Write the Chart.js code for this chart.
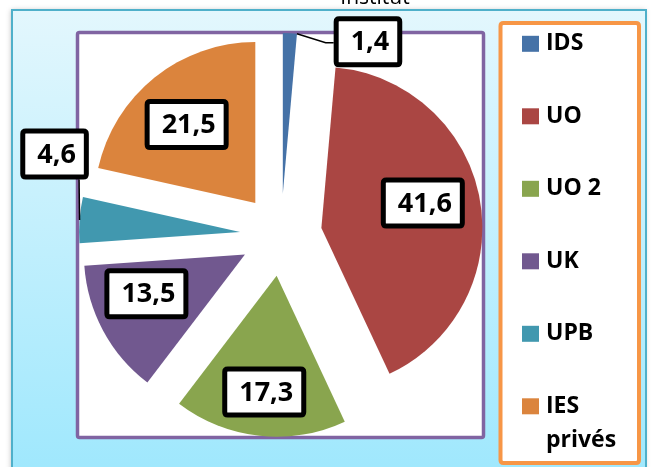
<!DOCTYPE html>
<html>
<head>
<meta charset="utf-8">
<script src="https://cdn.jsdelivr.net/npm/chart.js@4/dist/chart.umd.min.js"></script>
<style>
  html, body { margin: 0; padding: 0; background: #ffffff; }
  #wrap { position: relative; width: 653px; height: 467px; }
</style>
</head>
<body>
<div id="wrap"><canvas id="c" width="653" height="467"></canvas></div>
<script>
// ---- data ----
const categories = ['IDS', 'UO', 'UO 2', 'UK', 'UPB', 'IES privés'];
const values = [1.4, 41.6, 17.3, 13.5, 4.6, 21.5];
const chartTitle = 'Institut';
const colors = ['#4572a7', '#aa4643', '#89a54e', '#71588f', '#4198af', '#db843d'];

// ---- label placement (relative to each slice geometry) ----
// inside: distance from exploded apex along mid-angle, plus nudge
// outside: offset from a point on the slice's outer arc, with leader line
const labelPlacement = [
  { type: 'out', at: 'end', dx: 71, dy: 8 },
  { type: 'in', dist: 103, dx: 0, dy: -7 },
  { type: 'in', dist: 116, dx: 0, dy: 1 },
  { type: 'in', dist: 112, dx: 0, dy: -14 },
  { type: 'out', at: 'mid', dx: -25, dy: -66 },
  { type: 'in', dist: 105, dx: -3, dy: 3.5 }
];

const EXPLODE = 41;
const RADIUS = 161;
const LABEL_FONT = 'bold 27px "Open Sans", "Liberation Sans", sans-serif';
const LEGEND_FONT = 'bold 23px "Open Sans", "Liberation Sans", sans-serif';

// Arc drawing: translate by full offset, keep true radius/angles
const ArcEl = Chart.ArcElement || Chart.registry.getElement('arc');
ArcEl.prototype.draw = function (ctx) {
  const o = this.options.offset || 0;
  const mid = (this.startAngle + this.endAngle) / 2;
  ctx.save();
  ctx.translate(Math.cos(mid) * o, Math.sin(mid) * o);
  ctx.beginPath();
  ctx.moveTo(this.x, this.y);
  ctx.arc(this.x, this.y, this.outerRadius, this.startAngle, this.endAngle);
  ctx.closePath();
  ctx.fillStyle = this.options.backgroundColor;
  ctx.fill();
  ctx.restore();
};

function fmt(v) { return v.toFixed(1).replace('.', ','); }

function roundRect(ctx, x, y, w, h, r) {
  ctx.beginPath();
  ctx.moveTo(x + r, y);
  ctx.lineTo(x + w - r, y);
  ctx.quadraticCurveTo(x + w, y, x + w, y + r);
  ctx.lineTo(x + w, y + h - r);
  ctx.quadraticCurveTo(x + w, y + h, x + w - r, y + h);
  ctx.lineTo(x + r, y + h);
  ctx.quadraticCurveTo(x, y + h, x, y + h - r);
  ctx.lineTo(x, y + r);
  ctx.quadraticCurveTo(x, y, x + r, y);
  ctx.closePath();
}

const framePlugin = {
  id: 'frames',
  beforeDraw(chart) {
    const ctx = chart.ctx;
    const W = chart.width, H = chart.height;
    ctx.save();
    ctx.fillStyle = '#ffffff';
    ctx.fillRect(0, 0, W, H);
    // outer chart frame with gradient
    const g = ctx.createLinearGradient(0, 10, 0, H);
    g.addColorStop(0, '#e3f7fd');
    g.addColorStop(1, '#a0e8fd');
    ctx.shadowColor = 'rgba(0,0,0,0.25)';
    ctx.shadowBlur = 5;
    ctx.shadowOffsetX = -1;
    ctx.shadowOffsetY = 0;
    ctx.fillStyle = g;
    ctx.fillRect(12, 10, 634, H + 20);
    ctx.shadowColor = 'transparent';
    ctx.strokeStyle = '#4fb0ca';
    ctx.lineWidth = 2;
    ctx.strokeRect(12, 10, 634, H + 20);
    // plot area
    ctx.fillStyle = '#ffffff';
    ctx.fillRect(77.5, 32.5, 406, 405);
    ctx.strokeStyle = '#8064a2';
    ctx.lineWidth = 3.5;
    roundRect(ctx, 77.5, 32.5, 406, 405, 2);
    ctx.stroke();
    // legend box
    ctx.fillStyle = '#ffffff';
    roundRect(ctx, 500.5, 23, 138.5, 440, 3);
    ctx.fill();
    ctx.strokeStyle = '#f79646';
    ctx.lineWidth = 4;
    ctx.stroke();
    ctx.restore();
  },
  afterDraw(chart) {
    const ctx = chart.ctx;
    const meta = chart.getDatasetMeta(0);
    ctx.save();
    // data labels
    meta.data.forEach((el, i) => {
      const p = el.getProps(['x', 'y', 'startAngle', 'endAngle', 'outerRadius'], true);
      const mid = (p.startAngle + p.endAngle) / 2;
      const ax = p.x + Math.cos(mid) * EXPLODE;
      const ay = p.y + Math.sin(mid) * EXPLODE;
      const pl = labelPlacement[i];
      let cx, cy, anchor = null;
      if (pl.type === 'in') {
        cx = ax + Math.cos(mid) * pl.dist + pl.dx;
        cy = ay + Math.sin(mid) * pl.dist + pl.dy;
      } else {
        const ang = pl.at === 'end' ? p.endAngle : mid;
        anchor = { x: ax + Math.cos(ang) * p.outerRadius, y: ay + Math.sin(ang) * p.outerRadius };
        cx = anchor.x + pl.dx;
        cy = anchor.y + pl.dy;
      }
      const txt = fmt(values[i]);
      ctx.font = LABEL_FONT;
      const tw = ctx.measureText(txt).width;
      const bw = tw + 30, bh = 51;
      const bx = cx - bw / 2, by = cy - bh / 2;
      // leader line
      if (anchor) {
        ctx.strokeStyle = '#000000';
        ctx.lineWidth = 1.5;
        ctx.beginPath();
        ctx.moveTo(anchor.x, anchor.y);
        if (pl.at === 'end') {
          ctx.lineTo(bx - 8, cy + 1);
          ctx.lineTo(bx, cy + 1);
        } else {
          ctx.lineTo(anchor.x - 0.5, by + bh);
        }
        ctx.stroke();
      }
      roundRect(ctx, bx + 2.5, by + 2.5, bw - 5, bh - 5, 3);
      ctx.fillStyle = '#ffffff';
      ctx.fill();
      ctx.strokeStyle = '#000000';
      ctx.lineWidth = 5;
      ctx.stroke();
      ctx.fillStyle = '#000000';
      ctx.textAlign = 'center';
      ctx.textBaseline = 'middle';
      ctx.fillText(txt, cx + 2, cy + 1);
    });
    // legend
    ctx.font = LEGEND_FONT;
    ctx.textAlign = 'left';
    ctx.textBaseline = 'middle';
    categories.forEach((name, i) => {
      const ry = 43.8 + i * 72.5;
      ctx.fillStyle = colors[i];
      ctx.fillRect(522, ry - 8, 17, 16);
      ctx.fillStyle = '#000000';
      const parts = name.split(' ');
      if (name === 'IES privés') {
        ctx.fillText(parts[0], 546, ry);
        ctx.fillText(parts[1], 546, ry + 34);
      } else {
        ctx.fillText(name, 546, ry);
      }
    });
    // title (mostly cropped at the top)
    ctx.font = '21px "Open Sans", "Liberation Sans", sans-serif';
    ctx.textAlign = 'center';
    ctx.textBaseline = 'alphabetic';
    ctx.fillStyle = '#000000';
    ctx.fillText(chartTitle, 375, 4);
    ctx.restore();
  }
};

new Chart(document.getElementById('c'), {
  type: 'pie',
  data: {
    labels: categories,
    datasets: [{
      data: values,
      backgroundColor: colors,
      borderWidth: 0,
      offset: EXPLODE,
      radius: RADIUS,
      clip: false
    }]
  },
  options: {
    responsive: false,
    animation: false,
    events: [],
    layout: { padding: { left: 78, right: 169, top: 33, bottom: 30 } },
    plugins: {
      legend: { display: false },
      tooltip: { enabled: false },
      title: { display: false }
    }
  },
  plugins: [framePlugin]
});
</script>
</body>
</html>
